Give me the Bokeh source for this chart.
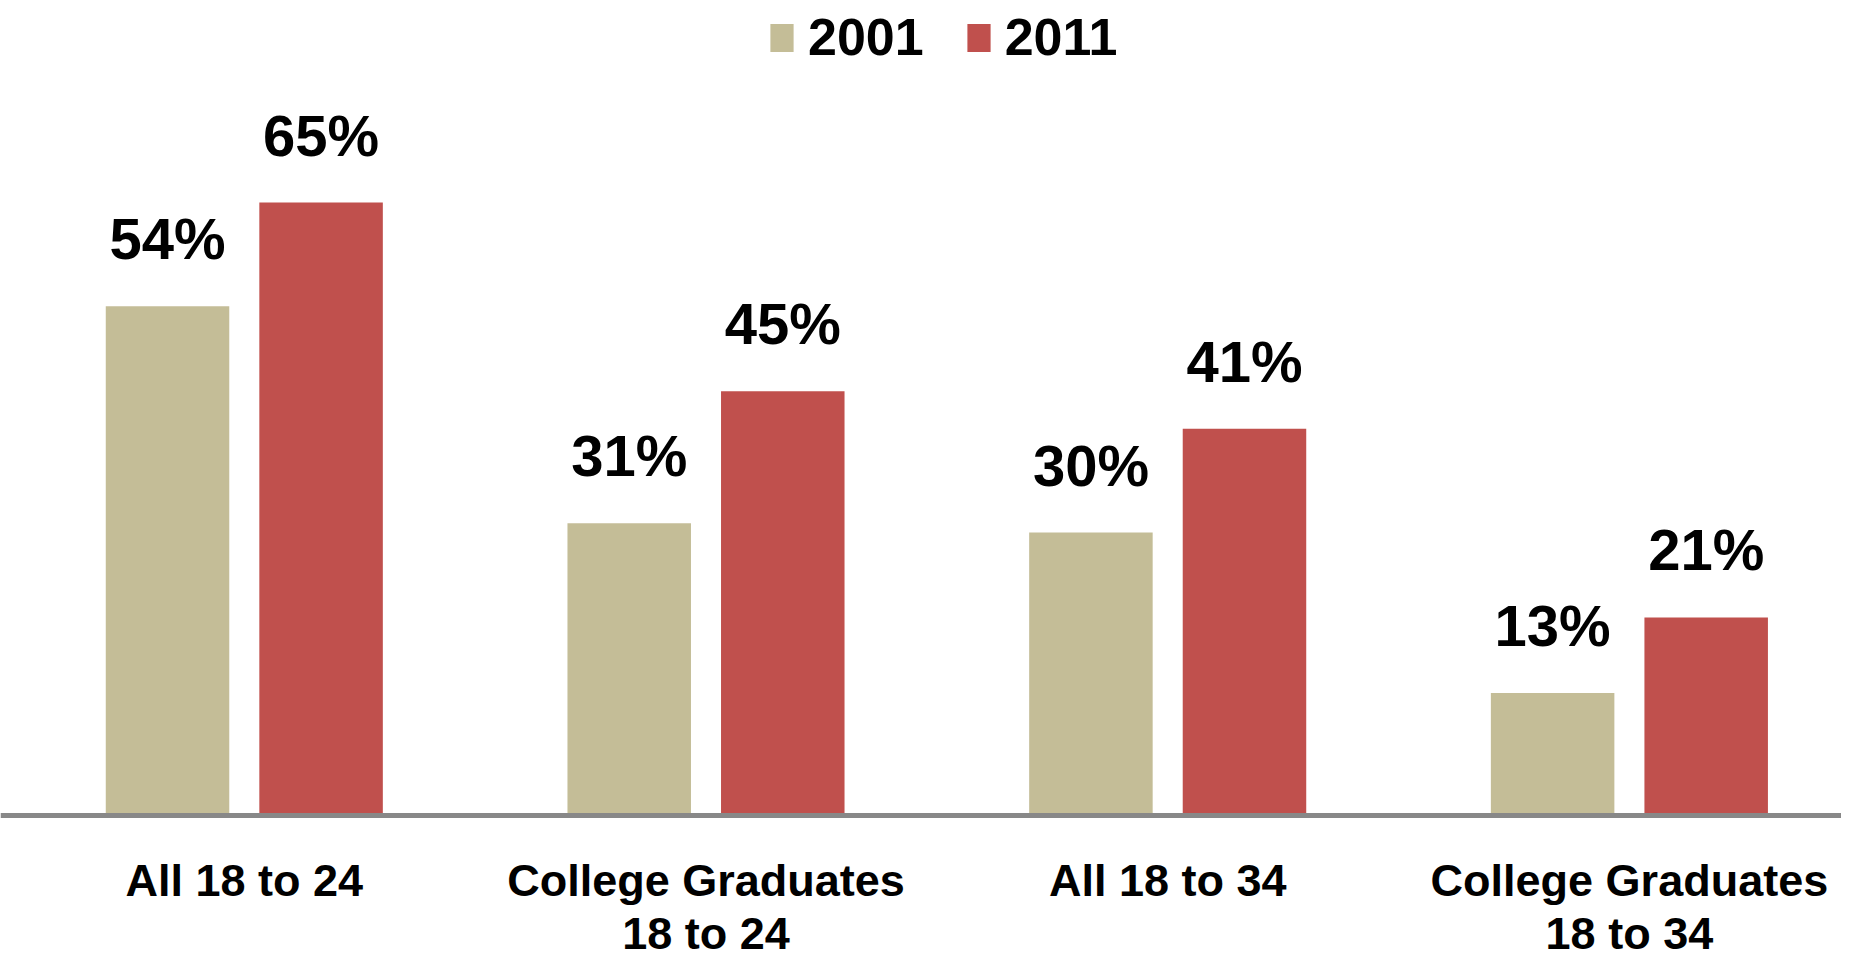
from bokeh.plotting import figure
from bokeh.models import ColumnDataSource, LabelSet, Span, Range1d, Legend, LegendItem
from bokeh.transform import dodge
from bokeh.core.properties import value
from bokeh.embed import file_html
from bokeh.resources import INLINE

categories = ["All 18 to 24", "College Graduates\n18 to 24", "All 18 to 34", "College Graduates\n18 to 34"]
series_names = ["2001", "2011"]
values_2001 = [54, 31, 30, 13]
values_2011 = [65, 45, 41, 21]

TAN = "#C4BD97"
RED = "#C0504D"
FONT = "Liberation Sans"

xs = list(range(len(categories)))
line1 = [c.split("\n")[0] for c in categories]
line2 = [c.split("\n")[1] if "\n" in c else "" for c in categories]

source = ColumnDataSource(data=dict(
    x=xs,
    v2001=values_2001,
    v2011=values_2011,
    l2001=[f"{v}%" for v in values_2001],
    l2011=[f"{v}%" for v in values_2011],
    zero=[0] * len(xs),
    line1=line1,
    line2=line2,
))

W, H = 1841, 960
px_per_unit = 461.7
px_per_pct = 9.43
x0 = 243.8
axis_y = 815

p = figure(width=W, height=H, output_backend="svg", toolbar_location=None,
           x_range=Range1d(-x0 / px_per_unit, (W - x0) / px_per_unit),
           y_range=Range1d(-(H - axis_y) / px_per_pct, axis_y / px_per_pct),
           x_axis_location=None, y_axis_location=None, min_border=0,
           outline_line_color=None)
p.grid.visible = False
p.background_fill_color = "white"
p.border_fill_color = "white"

off = 0.1663
bw = 0.2675
r1 = p.vbar(x=dodge("x", -off, range=p.x_range), top="v2001", width=bw, bottom=0,
            source=source, fill_color=TAN, line_color=None)
r2 = p.vbar(x=dodge("x", off, range=p.x_range), top="v2011", width=bw, bottom=0,
            source=source, fill_color=RED, line_color=None)

p.add_layout(Span(location=0, dimension="width", line_color="#888888", line_width=5))

lab_kw = dict(source=source, text_font=value(FONT), text_font_style="bold",
              text_font_size="58px", text_color="black", text_align="center",
              text_baseline="alphabetic", y_offset=47)
p.add_layout(LabelSet(x=dodge("x", -off, range=p.x_range), y="v2001", text="l2001", **lab_kw))
p.add_layout(LabelSet(x=dodge("x", off, range=p.x_range), y="v2011", text="l2011", **lab_kw))

cat_kw = dict(source=source, text_font=value(FONT), text_font_style="bold",
              text_font_size="45px", text_color="black", text_align="center",
              text_baseline="alphabetic")
p.add_layout(LabelSet(x="x", y="zero", text="line1", y_offset=-80, **cat_kw))
p.add_layout(LabelSet(x="x", y="zero", text="line2", y_offset=-133, **cat_kw))

legend = Legend(items=[LegendItem(label=series_names[0], renderers=[r1]),
                       LegendItem(label=series_names[1], renderers=[r2])],
                orientation="horizontal", location=(767, 893),
                glyph_width=29, glyph_height=35, label_standoff=12, spacing=40,
                padding=0, margin=0, border_line_color=None, background_fill_alpha=0,
                label_text_font=FONT, label_text_font_style="bold",
                label_text_font_size="52px", label_text_color="black")
p.add_layout(legend)

open("out.html", "w").write(file_html(p, INLINE))
